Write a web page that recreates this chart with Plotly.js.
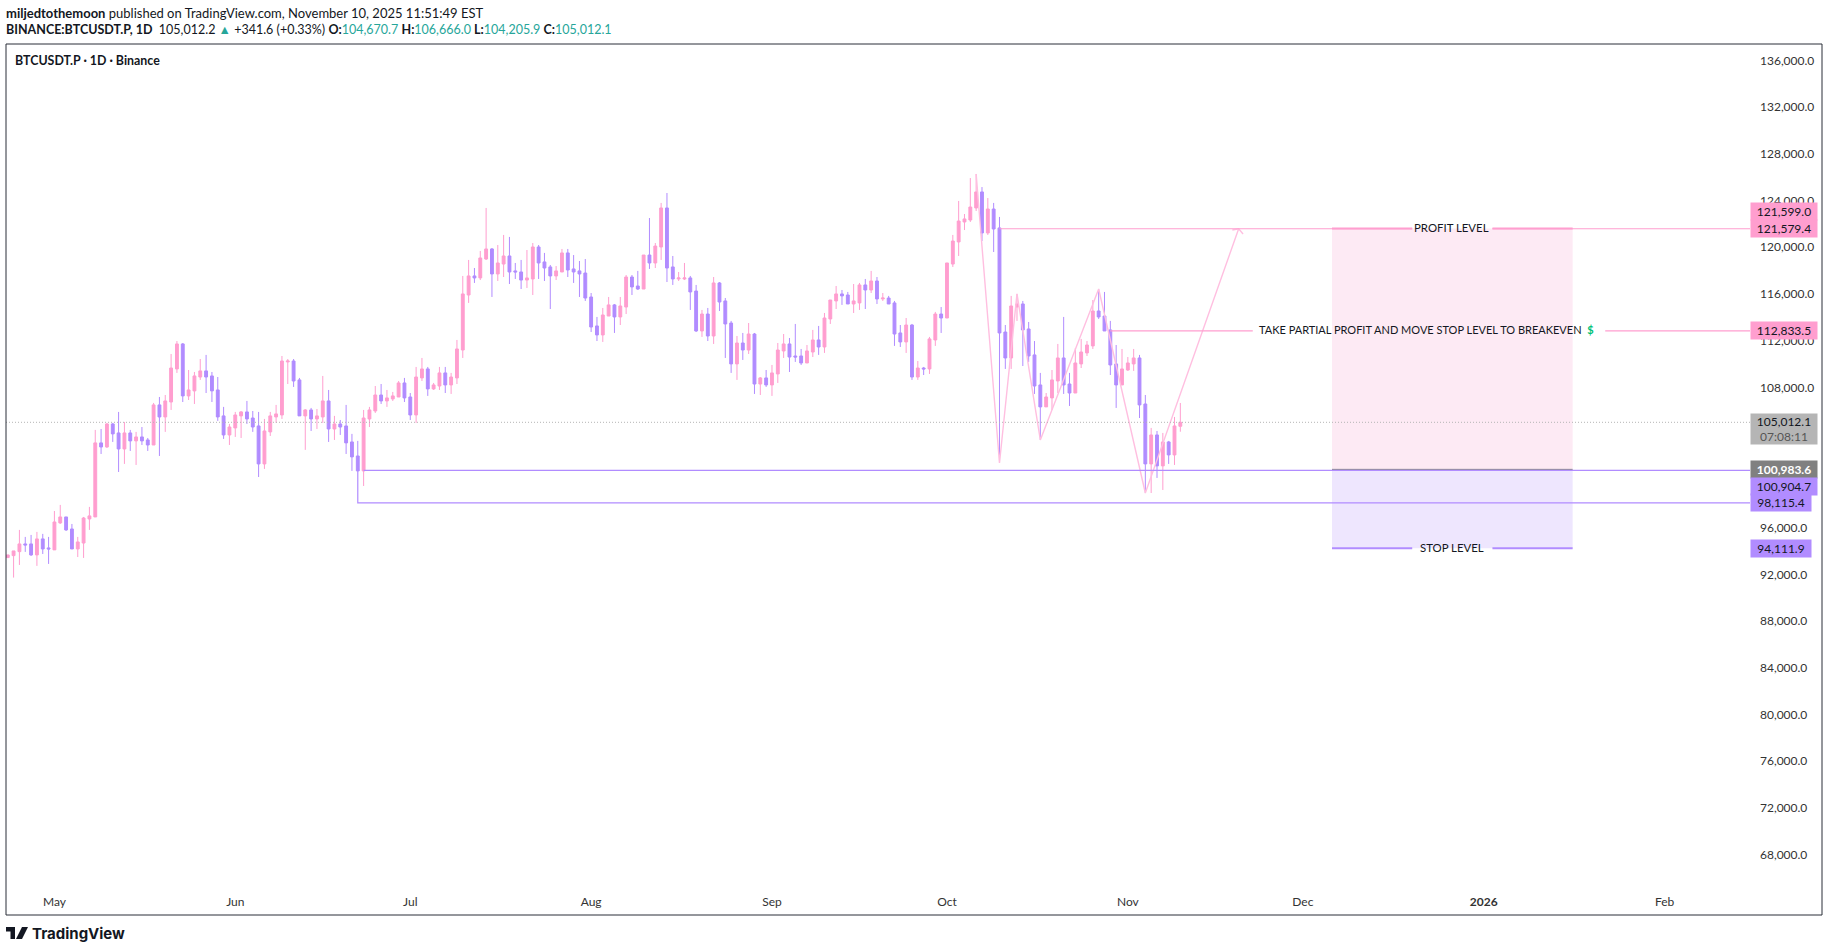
<!DOCTYPE html>
<html><head><meta charset="utf-8">
<script src="https://cdn.plot.ly/plotly-3.0.1.min.js"></script>
<style>html,body{margin:0;padding:0;background:#fff}#c{width:1829px;height:952px}</style>
</head><body><div id="c"></div>
<script>
const firstDay = '2025-04-23';
const open = [93430,93600,93940,94600,94600,93660,95030,94260,94090,96400,
96910,95880,94170,94680,96740,96910,103250,102900,104870,104100,
102730,104100,103420,103760,103500,103070,106500,105470,106750,109580,
111720,107270,107700,108890,109410,108980,107780,105560,103930,104530,
105560,105900,105380,104700,101450,104190,105470,105640,110180,110260,
108640,105560,106070,105300,105470,106840,104440,104870,104700,103330,
102130,100850,105300,105980,107350,106840,107010,107180,108380,107180,
105640,108810,109580,107870,108120,109240,108210,108810,111200,115910,
117540,117370,118990,119850,117710,118560,119250,117970,117880,117190,
117280,120020,118740,118310,117540,117880,119510,118140,117970,117790,
115740,113260,112490,114110,115060,114030,114880,117450,116680,116420,
119330,118650,120020,123360,118310,117280,117280,117370,116250,112830,
114280,112400,116940,115400,113510,110010,111800,111200,112570,108290,
108810,108210,109150,111120,111720,110690,110690,110090,111030,112060,
111460,113860,115400,116000,115910,115140,115230,116770,116340,117110,
115570,115650,115230,112660,111890,113340,108890,109660,109580,112060,
114280,113940,118560,120450,122160,122330,123360,124730,121220,123270,
121650,112740,110520,114880,115140,113000,110780,108210,106330,107100,
108550,110520,108290,107520,110010,110950,111550,114540,114110,112920,
110010,108210,109490,110010,110520,106580,101450,103930,101280,103330,
102220,104670.7];
const high = [93660,94000,95800,95200,95370,95630,95460,95200,97420,97940,
96910,96310,95200,96910,97770,104360,104440,104960,104960,105900,
105040,104360,104190,104610,103670,106670,107180,107350,110860,111970,
111800,109490,109320,110430,110780,109320,108890,106330,104870,105900,
105980,106840,105980,105900,105300,105900,106500,110690,110430,110430,
108810,106150,106240,106150,108980,107780,105560,105210,106500,104020,
103420,106070,106330,108120,108290,107780,107610,108550,108810,107520,
109750,110520,109750,108380,109750,109750,109240,112060,117540,118910,
118220,119680,123360,119930,120190,121050,120880,118650,118910,119760,
120360,120190,119510,118480,118390,119850,119850,119330,118820,118990,
116080,114030,114800,115740,115140,115740,117620,117620,117970,119330,
122500,120360,123790,124640,119250,117880,118650,117540,116770,114630,
114800,117450,117020,115650,113690,112400,112660,113510,112660,108890,
109490,109920,111800,112570,112230,113430,111290,111630,112920,113260,
114370,115480,116680,116340,116170,116850,116940,117280,117970,117450,
116080,115830,115400,113340,113940,113430,110260,109750,112320,114460,
114880,118650,121050,123960,122840,125920,126270,125150,124210,123790,
122590,113340,115830,116000,115400,113600,111970,109240,107520,109490,
111720,114030,109240,111370,112150,111970,115480,116420,116170,113690,
111630,111290,110600,111290,110780,107350,104530,104270,104100,103420,
105470,106666];
const low = [93430,91720,92800,93920,93570,92720,93740,92890,94090,96310,
95710,94170,93480,93400,95800,96910,102300,102820,103330,100760,
101450,102560,101360,103070,102560,103070,102130,104190,106070,109240,
106750,106920,106580,108640,107520,106750,105130,103590,103070,103760,
103670,104870,104190,100330,101020,103840,104960,105300,108290,108040,
105560,102650,104270,104440,104960,103330,103500,103930,102300,100850,
100850,99560,104610,105810,106580,106330,106840,107180,106750,105210,
104960,108550,107270,107780,107780,107520,107440,108290,110520,115230,
116940,117190,118910,115740,117110,117450,116850,117280,116420,116510,
115910,117280,117110,114710,117190,117880,117450,116940,115740,115400,
112740,111970,111890,114110,112660,113340,114280,115910,116340,116420,
118140,118220,118910,117020,116770,117110,117190,114630,112740,112320,
111970,111720,114540,110520,109240,108640,110350,110860,107440,107350,
108040,107270,108380,110520,109320,110180,109920,110090,110600,110780,
110950,113430,114710,115060,115140,114370,114630,114710,116080,115140,
115400,115140,111550,111460,110950,108640,108640,109060,109150,111550,
112660,113940,118310,119250,121470,122160,123100,120530,121050,119590,
101530,109580,109580,113690,109830,110180,107440,103500,106330,106070,
107520,107440,106410,107520,109660,110690,111290,113860,112830,109060,
106240,108210,109410,109410,105380,98960,98960,100250,99220,101450,
101360,104205.9];
const close = [93660,94000,94600,94510,93660,95030,94170,94170,96480,96910,
95800,94170,94770,96820,97000,103250,102900,104870,104020,102730,
104100,103420,103760,103420,103070,106500,105470,106840,109660,111720,
107270,107780,108980,109410,108890,107700,105470,103930,104610,105640,
105900,105300,104610,101450,104270,105560,105730,110260,110260,108550,
105560,106070,105300,105560,106840,104440,104870,104610,103250,102050,
100850,105380,106070,107350,106840,107100,107270,108380,107100,105640,
108890,109580,107870,108210,109240,108210,108890,111290,116000,117540,
117370,119080,119850,117710,118650,119250,117880,117880,117190,117370,
120020,118650,118220,117540,117970,119510,118050,117880,117710,115650,
113170,112490,114200,115060,114030,114970,117450,116600,116420,119330,
118650,120100,123360,118220,117280,117370,117370,116170,112830,114280,
112400,116940,115310,113430,110010,111800,111200,112570,108290,108810,
108210,109240,111200,111720,110600,110600,110090,111120,112060,111460,
113940,115480,116000,115830,115140,115400,116770,116340,117110,115570,
115650,115140,112570,111890,113340,108890,109660,109580,112150,114280,
113940,118650,120530,122240,122420,123440,124730,121220,123270,121560,
112660,110520,114970,115140,112920,110690,108120,106330,107180,108640,
110520,108210,107520,110090,111030,111630,114540,114030,112830,109920,
108210,109580,110090,110520,106500,101450,103930,101280,103330,102220,
104700,105012.1];

const lastPrice = 105012.1;
const profitLevel = 121599.0, targetLevel = 121579.4, partialLevel = 112833.5;
const entryLevel = 100983.6, supportLevel = 100904.7, lowLevel = 98115.4, stopLevel = 94240;

const pathDates = ['2025-10-06','2025-10-10','2025-10-13','2025-10-17','2025-10-27','2025-11-04','2025-11-20'];
const pathPrices = [126270,101530,116000,103500,116420,98960,121579.4];
const headDates = ['2025-11-18 22:00','2025-11-20','2025-11-20 18:00'];
const headPrices = [121470,121579.4,121130];

const posStart = '2025-12-06', posEnd = '2026-01-16 06:00';
const viewStart = '2025-04-22 16:48', viewEnd = '2026-02-15 15:36';
const labelMid = '2025-12-26 13:00', gapA = '2025-12-19 18:00', gapB = '2026-01-02 12:00';

const monthTicks = ['2025-05-01','2025-06-01','2025-07-01','2025-08-01','2025-09-01','2025-10-01','2025-11-01','2025-12-01','2026-01-01','2026-02-01'];
const monthLabels = ['May','Jun','Jul','Aug','Sep','Oct','Nov','Dec','<b>2026</b>','Feb'];
const priceTicks = [136000,132000,128000,124000,120000,116000,112000,108000,104000,100000,96000,92000,88000,84000,80000,76000,72000,68000];

const PINK='#ff9ecf', VIOLET='#b18cff', TEXT='#131722', FONT='Lato';
const PALE='#ffbfe0';

const days = open.map((_,i)=>{
  const d = new Date(Date.parse(firstDay+'T00:00:00Z')+i*86400000);
  return d.toISOString().slice(0,10);
});

const seg = (x,y,color,width,extra)=>Object.assign({type:'scatter',mode:'lines',x,y,hoverinfo:'skip',showlegend:false,
  line:Object.assign({color,width},extra||{})});

const traces = [
 {type:'candlestick',x:days,open,high,low,close,showlegend:false,whiskerwidth:0,
  increasing:{line:{color:PINK,width:1},fillcolor:PINK},
  decreasing:{line:{color:VIOLET,width:1},fillcolor:VIOLET}},
 seg(pathDates,pathPrices,PALE,1.4),
 seg(headDates,headPrices,PALE,1.4),
 seg([viewStart,viewEnd],[lastPrice,lastPrice],'#b5b5b5',1,{dash:'1px,2px'}),
 seg(['2025-10-10',gapA,null,gapB,viewEnd],[targetLevel,targetLevel,null,targetLevel,targetLevel],PINK,1.2),
 seg([posStart,gapA,null,gapB,posEnd],[profitLevel,profitLevel,null,profitLevel,profitLevel],PINK,2),
 seg(['2025-10-29','2025-11-22 10:00',null,'2026-01-21 20:00',viewEnd],[partialLevel,partialLevel,null,partialLevel,partialLevel],PINK,1.2),
 seg([posStart,posEnd],[entryLevel,entryLevel],'#808080',1),
 seg(['2025-06-23',viewEnd],[supportLevel,supportLevel],VIOLET,1.2),
 seg(['2025-06-22','2025-06-22',viewEnd],[supportLevel,lowLevel,lowLevel],VIOLET,1.2),
 seg([posStart,gapA,null,gapB,posEnd],[stopLevel,stopLevel,null,stopLevel,stopLevel],VIOLET,2)
];

const L=6,R=1750,T=44,B=887;
const px=x=>(x-L)/(R-L), py=y=>(B-y)/(B-T);

const note=(text,x,y,size,extra)=>Object.assign({text,xref:'paper',yref:'paper',x:px(x),y:py(y),xanchor:'left',yanchor:'middle',
  showarrow:false,align:'left',font:{family:FONT,size,color:TEXT}},extra||{});
const tag=(label,price,bg,w,yshift,color,bold)=>({text:bold?'<b>'+label+'</b>':label,xref:'paper',yref:'y',x:1,y:price,xanchor:'left',yanchor:'middle',
  showarrow:false,bgcolor:bg,width:w,height:17,align:'center',yshift:yshift,borderpad:0,font:{family:FONT,size:12,color:color||TEXT}});
const up='#26a69a';
const inner=(text,x,y)=>({text,xref:'x',yref:'y',x,y,showarrow:false,xanchor:'center',yanchor:'middle',yshift:1,font:{family:FONT,size:11.4,color:TEXT}});

const annotations=[
 note('<b>miljedtothemoon</b> published on TradingView.com, November 10, 2025 11:51:49 EST',4,13,13),
 note('<b>BINANCE:BTCUSDT.P, 1D</b>  105,012.2 <span style="color:'+up+'">▲</span> +341.6 (+0.33%) <b>O:</b><span style="color:'+up+'">104,670.7</span> <b>H:</b><span style="color:'+up+'">106,666.0</span> <b>L:</b><span style="color:'+up+'">104,205.9</span> <b>C:</b><span style="color:'+up+'">105,012.1</span>',4,29.5,12.5),
 note('<b>BTCUSDT.P · 1D · Binance</b>',13,60,12.4),
 note('<b>TradingView</b>',30,933,15,{font:{family:'Inter',size:15,color:TEXT}}),
 inner('PROFIT LEVEL',labelMid,targetLevel),
 inner('STOP LEVEL',labelMid,stopLevel),
 Object.assign(inner('TAKE PARTIAL PROFIT AND MOVE STOP LEVEL TO BREAKEVEN  <b><span style="color:#00c176">$</span></b>','2025-11-23 02:00',partialLevel),{xanchor:'left',font:{family:FONT,size:11,color:TEXT}}),
 tag('121,599.0',profitLevel,PINK,66,17),
 tag('121,579.4',targetLevel,PINK,66,0),
 tag('112,833.5',partialLevel,PINK,66,0),
 Object.assign(tag('105,012.1<br><span style="color:#555">07:08:11</span>',lastPrice,'#b5b5b5',66,-7),{height:30}),
 tag('100,983.6',entryLevel,'#808080',66,0,'#ffffff',true),
 tag('100,904.7',supportLevel,VIOLET,66,-16),
 tag('98,115.4',lowLevel,VIOLET,60,0),
 tag('94,111.9',stopLevel,VIOLET,60,0)
];

const logo=(path)=>({type:'path',xref:'paper',yref:'paper',xsizemode:'pixel',ysizemode:'pixel',xanchor:px(6),yanchor:py(939),path,
  fillcolor:TEXT,line:{width:0},layer:'above'});

const shapes=[
 {type:'rect',xref:'x',yref:'y',x0:posStart,x1:posEnd,y0:entryLevel,y1:profitLevel,fillcolor:'#fdeaf4',line:{width:0},layer:'below'},
 {type:'rect',xref:'x',yref:'y',x0:posStart,x1:posEnd,y0:stopLevel,y1:entryLevel,fillcolor:'#eee6fe',line:{width:0},layer:'below'},
 {type:'rect',xref:'paper',yref:'paper',x0:0,x1:px(1822),y0:py(915),y1:py(44),line:{color:'#2a2e39',width:1},fillcolor:'rgba(0,0,0,0)',layer:'above'},
 logo('M0,12 L9,12 L9,0 L4.5,0 L4.5,7.5 L0,7.5 Z'),
 logo('M11,10 a2,2 0 1,0 4,0 a2,2 0 1,0 -4,0 Z'),
 logo('M16,12 L22,12 L16,0 L10,0 Z')
];

Plotly.newPlot('c',traces,{
 width:1829,height:952,margin:{l:L,r:1829-R,t:T,b:952-B,pad:0},
 paper_bgcolor:'#fff',plot_bgcolor:'#fff',showlegend:false,boxgap:0.3,
 font:{family:FONT,color:TEXT},
 xaxis:{type:'date',range:[viewStart,viewEnd],tickmode:'array',tickvals:monthTicks,ticktext:monthLabels,tickangle:0,showgrid:false,zeroline:false,showline:false,ticklen:0,rangeslider:{visible:false},
  tickfont:{family:FONT,size:12,color:'#333'},ticklabelstandoff:6},
 yaxis:{side:'right',range:[65233,137395],tickmode:'array',tickvals:priceTicks,tickformat:',.1f',showgrid:false,zeroline:false,showline:false,ticklen:0,
  tickfont:{family:FONT,size:12,color:'#333'},ticklabelstandoff:9},
 annotations,shapes
},{displayModeBar:false,staticPlot:true});
</script></body></html>
